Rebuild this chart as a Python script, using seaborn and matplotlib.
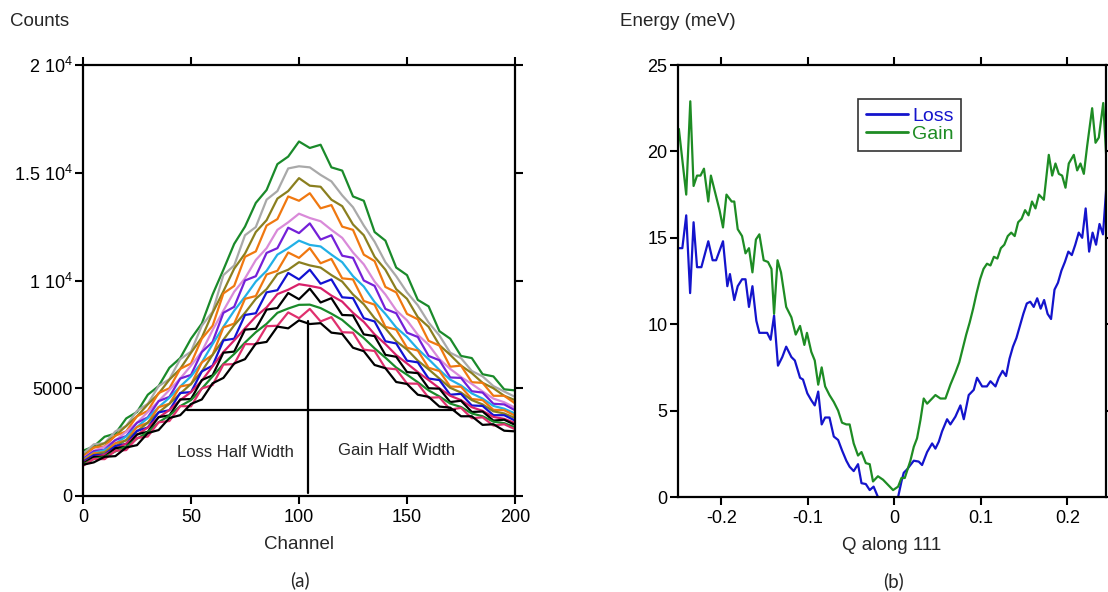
import numpy as np
import pandas as pd
import seaborn as sns
import matplotlib.pyplot as plt

# ---- panel (a): spectra, one value every 5 channels ----
channels = [0, 5, 10, 15, 20, 25, 30, 35, 40, 45, 50, 55, 60, 65, 70, 75, 80, 85, 90, 95,
            100, 105, 110, 115, 120, 125, 130, 135, 140, 145, 150, 155, 160, 165, 170, 175,
            180, 185, 190, 195, 200]

spec_green1 = [2100, 2300, 2750, 2900, 3600, 3900, 4700, 5100, 5950, 6400, 7300, 8000, 9350, 10500,
               11700, 12500, 13600, 14200, 15400, 15750, 16450, 16150, 16300, 15250, 15100, 13900,
               13700, 12250, 11850, 10600, 10250, 9100, 8800, 7650, 7300, 6500, 6400, 5650, 5550,
               4950, 4900]
spec_gray = [1950, 2400, 2450, 3000, 3250, 3950, 4280, 5100, 5420, 6350, 6700, 7900, 8550, 10250,
             10700, 12100, 12480, 13750, 14150, 15200, 15300, 15250, 14900, 14600, 13950, 13400,
             12550, 11800, 10850, 10200, 9450, 8850, 8050, 7450, 6650, 6400, 5800, 5550, 5100,
             4850, 4600]
spec_olive1 = [1850, 2250, 2450, 2800, 3250, 3700, 4250, 4750, 5400, 5900, 6650, 7350, 8500, 9500,
               10550, 11250, 12250, 12800, 13800, 14150, 14750, 14400, 14350, 13750, 13450, 12600,
               12100, 11100, 10500, 9600, 9150, 8300, 7850, 7000, 6550, 6050, 5700, 5250, 5000,
               4650, 4450]
spec_orange1 = [1800, 2250, 2300, 2800, 3000, 3700, 3950, 4780, 5000, 5900, 6150, 7300, 7900, 9400,
                9750, 11100, 11350, 12550, 12850, 13900, 13700, 14050, 13350, 13500, 12500, 12350,
                11200, 10900, 9700, 9450, 8450, 8200, 7200, 6980, 6000, 6050, 5280, 5250, 4650,
                4650, 4300]
spec_plum = [1750, 2100, 2280, 2580, 2980, 3400, 3900, 4400, 4920, 5450, 6050, 6700, 7700, 8600,
             9480, 10100, 10950, 11500, 12350, 12700, 13100, 12900, 12750, 12350, 11980, 11300,
             10750, 9950, 9350, 8620, 8150, 7480, 7020, 6350, 5900, 5520, 5200, 4850, 4520,
             4350, 4100]
spec_purple = [1720, 2080, 2150, 2600, 2780, 3400, 3650, 4400, 4600, 5450, 5620, 6680, 7150, 8500,
               8780, 10000, 10200, 11280, 11500, 12450, 12200, 12650, 11900, 12100, 11150, 11050,
               10000, 9750, 8680, 8480, 7580, 7380, 6500, 6300, 5500, 5480, 4860, 4800, 4280,
               4250, 3980]
spec_cyan = [1680, 2000, 2130, 2430, 2760, 3200, 3620, 4120, 4560, 5080, 5550, 6200, 7050, 7850,
             8600, 9250, 9950, 10450, 11200, 11500, 11850, 11650, 11580, 11200, 10850, 10200,
             9720, 9000, 8450, 7820, 7380, 6820, 6350, 5850, 5400, 5130, 4760, 4520, 4180,
             4050, 3830]
spec_orange2 = [1650, 1980, 2030, 2450, 2580, 3200, 3400, 4120, 4280, 5080, 5180, 6200, 6550, 7820,
                8000, 9150, 9280, 10280, 10450, 11300, 11050, 11500, 10800, 11000, 10100, 10050,
                9050, 8880, 7850, 7720, 6880, 6750, 5950, 5800, 5080, 5070, 4500, 4450, 4000,
                3980, 3730]
spec_olive2 = [1620, 1900, 2030, 2300, 2600, 3000, 3400, 3880, 4280, 4750, 5200, 5780, 6550, 7250,
               7920, 8500, 9150, 9600, 10300, 10500, 10850, 10700, 10600, 10250, 9950, 9350,
               8900, 8250, 7780, 7180, 6800, 6280, 5880, 5450, 5020, 4800, 4450, 4250, 3930,
               3830, 3620]
spec_blue = [1580, 1890, 1920, 2320, 2420, 3020, 3180, 3880, 3980, 4780, 4820, 5780, 6050, 7220,
             7300, 8400, 8480, 9450, 9550, 10350, 10050, 10500, 9850, 10050, 9220, 9180, 8250,
             8100, 7180, 7080, 6280, 6200, 5450, 5380, 4700, 4740, 4200, 4180, 3750, 3750, 3500]
spec_crimson1 = [1540, 1800, 1910, 2180, 2430, 2830, 3180, 3640, 3990, 4450, 4820, 5350, 6020, 6680,
                 7220, 7780, 8330, 8750, 9370, 9570, 9830, 9750, 9650, 9300, 9020, 8500, 8080,
                 7500, 7050, 6540, 6150, 5750, 5380, 5000, 4650, 4450, 4120, 3950, 3670, 3580, 3390]
spec_black1 = [1500, 1810, 1820, 2220, 2280, 2860, 2980, 3660, 3740, 4480, 4500, 5380, 5600, 6650,
               6700, 7720, 7760, 8650, 8720, 9420, 9130, 9620, 8980, 9180, 8400, 8380, 7500, 7420,
               6550, 6460, 5750, 5700, 5000, 4980, 4360, 4420, 3900, 3920, 3500, 3540, 3300]
spec_green2 = [1470, 1720, 1820, 2070, 2290, 2660, 2960, 3420, 3730, 4170, 4450, 4980, 5550, 6130,
               6590, 7120, 7600, 7990, 8500, 8700, 8870, 8880, 8720, 8460, 8170, 7740, 7330, 6850,
               6420, 5960, 5630, 5280, 4900, 4620, 4290, 4130, 3830, 3700, 3450, 3380, 3190]
spec_crimson2 = [1400, 1720, 1710, 2100, 2130, 2690, 2760, 3420, 3480, 4170, 4160, 4990, 5150, 6100,
                 6120, 7050, 7040, 7880, 7900, 8520, 8250, 8680, 8100, 8300, 7600, 7580, 6790,
                 6730, 5930, 5880, 5220, 5210, 4560, 4580, 4010, 4090, 3610, 3650, 3270, 3330, 3100]
spec_black2 = [1450, 1560, 1820, 1850, 2250, 2360, 2920, 3060, 3620, 3750, 4270, 4480, 5230, 5480,
               6150, 6350, 7070, 7150, 7860, 7780, 8150, 7980, 8020, 7580, 7520, 6880, 6720, 6080,
               5930, 5290, 5200, 4700, 4600, 4150, 4100, 3700, 3700, 3300, 3330, 3030, 3000]

spectra = [spec_green1, spec_gray, spec_olive1, spec_orange1, spec_plum, spec_purple, spec_cyan,
           spec_orange2, spec_olive2, spec_blue, spec_crimson1, spec_black1, spec_green2,
           spec_crimson2, spec_black2]
spec_colors = ['#1a8a2a', '#a9a9a9', '#8a7f1f', '#f07810', '#d98ad9', '#7420d8', '#22b0e6',
               '#f07810', '#8a7f1f', '#1212d2', '#d8206a', '#000000', '#1a8a2a', '#e0306e', '#000000']

# half-width construction lines
half_level = 4000
loss_edge, gain_edge = 48, 172
peak_channel, peak_bottom, peak_top = 104, 150, 8100

# ---- panel (b): dispersion ----
q_loss = [-0.249, -0.245, -0.2405, -0.236, -0.232, -0.228, -0.223, -0.215, -0.210, -0.206, -0.198,
          -0.193, -0.190, -0.185, -0.181, -0.176, -0.172, -0.168, -0.164, -0.1595, -0.156, -0.151,
          -0.147, -0.143, -0.139, -0.1345, -0.1295, -0.125, -0.119, -0.115, -0.109, -0.1056,
          -0.1006, -0.096, -0.092, -0.088, -0.084, -0.080, -0.075, -0.070, -0.065, -0.0605,
          -0.0555, -0.0517, -0.047, -0.042, -0.038, -0.033, -0.0285, -0.024, -0.019, -0.014,
          -0.010, -0.006, -0.002, 0.002, 0.0043, 0.0082, 0.0108, 0.0147, 0.0185, 0.0224, 0.0281,
          0.032, 0.0378, 0.0436, 0.0474, 0.0513, 0.0551, 0.0609, 0.0647, 0.0705, 0.0763, 0.0802,
          0.0859, 0.0917, 0.0955, 0.1014, 0.1069, 0.111, 0.1168, 0.1206, 0.125, 0.129, 0.133,
          0.137, 0.141, 0.145, 0.149, 0.153, 0.157, 0.161, 0.165, 0.169, 0.173, 0.177, 0.181,
          0.185, 0.189, 0.193, 0.197, 0.201, 0.205, 0.209, 0.213, 0.217, 0.221, 0.225, 0.229,
          0.233, 0.237, 0.241, 0.245]
e_loss = [14.4, 14.4, 16.3, 11.8, 15.9, 13.3, 13.3, 14.8, 13.7, 13.7, 14.8, 12.2, 12.9, 11.4, 12.2,
          12.6, 12.6, 11.0, 12.2, 10.2, 9.5, 9.5, 9.5, 9.1, 10.5, 7.6, 8.1, 8.7, 8.1, 7.9, 6.9, 6.8,
          6.0, 5.6, 5.3, 6.1, 4.2, 4.6, 4.6, 3.5, 3.3, 2.7, 2.1, 1.75, 1.5, 1.9, 0.8, 0.75, 0.4,
          0.6, 0.0, -0.6, -0.9, -0.7, -0.4, -0.2, 0.0, 0.9, 1.4, 1.6, 1.85, 2.1, 2.05, 1.85, 2.6,
          3.1, 2.8, 3.2, 3.8, 4.5, 4.2, 4.65, 5.3, 4.5, 5.9, 6.2, 6.9, 6.4, 6.4, 6.7, 6.4, 6.9,
          7.3, 7.0, 8.0, 8.7, 9.2, 9.9, 10.6, 11.2, 11.3, 11.0, 11.5, 10.9, 11.4, 10.6, 10.3,
          12.0, 12.4, 13.1, 13.6, 14.2, 14.0, 14.6, 15.3, 15.0, 16.7, 14.2, 15.3, 14.6, 15.8,
          15.2, 18.0]

q_gain = [-0.249, -0.2405, -0.2358, -0.232, -0.228, -0.224, -0.220, -0.215, -0.212, -0.207, -0.202,
          -0.198, -0.194, -0.188, -0.185, -0.181, -0.176, -0.172, -0.168, -0.164, -0.160, -0.156,
          -0.151, -0.146, -0.142, -0.139, -0.135, -0.131, -0.125, -0.119, -0.114, -0.109, -0.104,
          -0.101, -0.096, -0.092, -0.088, -0.084, -0.080, -0.075, -0.070, -0.065, -0.0605,
          -0.0555, -0.0517, -0.047, -0.042, -0.038, -0.033, -0.0285, -0.0247, -0.019, -0.0131,
          -0.0073, -0.0015, 0.0043, 0.0082, 0.012, 0.0185, 0.0224, 0.0262, 0.0301, 0.0339,
          0.0378, 0.0436, 0.0474, 0.0532, 0.059, 0.0647, 0.0705, 0.075, 0.079, 0.083, 0.087,
          0.091, 0.095, 0.099, 0.103, 0.107, 0.111, 0.115, 0.119, 0.123, 0.127, 0.131, 0.135,
          0.139, 0.143, 0.147, 0.151, 0.155, 0.159, 0.163, 0.167, 0.1727, 0.1784, 0.1823,
          0.1861, 0.190, 0.1938, 0.1977, 0.2015, 0.2073, 0.2112, 0.215, 0.2189, 0.2227, 0.2285,
          0.2324, 0.2362, 0.2413, 0.245]
e_gain = [21.3, 17.5, 22.9, 18.0, 18.6, 18.6, 19.0, 17.1, 18.6, 17.6, 16.6, 15.6, 17.5, 17.1, 17.1,
          15.5, 15.1, 14.1, 14.4, 13.0, 14.9, 15.2, 13.7, 13.6, 13.2, 10.6, 13.7, 13.0, 11.0, 10.4,
          9.4, 9.9, 8.8, 9.5, 8.4, 7.9, 6.5, 7.5, 6.4, 5.9, 5.5, 5.0, 4.3, 4.2, 4.2, 3.1, 2.4, 2.6,
          1.96, 1.9, 0.9, 1.2, 1.0, 0.7, 0.4, 0.6, 1.1, 1.1, 2.1, 2.9, 3.4, 4.45, 5.7, 5.4, 5.7,
          5.9, 5.7, 5.7, 6.5, 7.2, 7.8, 8.6, 9.4, 10.1, 10.9, 11.8, 12.6, 13.2, 13.5, 13.4, 13.9,
          13.8, 14.4, 14.6, 15.1, 15.3, 15.1, 15.9, 16.1, 16.6, 16.3, 17.1, 16.7, 17.5, 17.2,
          19.8, 18.6, 19.3, 18.7, 18.6, 17.9, 19.3, 19.8, 18.9, 19.3, 18.7, 20.3, 22.5, 20.5,
          20.8, 22.8, 19.5]

loss_color = '#1414cc'
gain_color = '#1e8c24'

sns.set_theme(style='ticks')
plt.rcParams['font.family'] = ['Liberation Sans', 'DejaVu Sans']
plt.rcParams['mathtext.default'] = 'regular'
plt.rcParams['axes.unicode_minus'] = False

fig = plt.figure(figsize=(11.08, 5.92), dpi=100)
ax1 = fig.add_axes([83 / 1108, 1 - 496 / 592, 432 / 1108, 431 / 592])
ax2 = fig.add_axes([678 / 1108, 1 - 497 / 592, 428 / 1108, 432 / 592])

df_spec = pd.DataFrame({
    'channel': channels * len(spectra),
    'counts': sum(spectra, []),
    'curve': np.repeat(np.arange(len(spectra)), len(channels)),
})
sns.lineplot(data=df_spec, x='channel', y='counts', hue='curve', palette=spec_colors,
             estimator=None, sort=False, legend=False, lw=1.6, ax=ax1)
ax1.plot([loss_edge, gain_edge], [half_level, half_level], color='black', lw=1.6)
ax1.plot([peak_channel, peak_channel], [peak_bottom, peak_top], color='black', lw=1.6)
ax1.text(70.8, 2000, 'Loss Half Width', fontsize=12, ha='center', va='center')
ax1.text(145, 2100, 'Gain Half Width', fontsize=12, ha='center', va='center')

ax1.set_xlim(0, 200)
ax1.set_ylim(0, 20000)
ax1.set_xticks([0, 50, 100, 150, 200])
ax1.set_yticks([0, 5000, 10000, 15000, 20000])
ax1.set_yticklabels(['0', '5000', '1 10$^4$', '1.5 10$^4$', '2 10$^4$'])
ax1.set_xlabel('Channel', fontsize=13.5, labelpad=7)
ax1.set_ylabel('')

df_disp = pd.concat([
    pd.DataFrame({'q': q_loss, 'e': e_loss, 'kind': 'Loss'}),
    pd.DataFrame({'q': q_gain, 'e': e_gain, 'kind': 'Gain'}),
])
sns.lineplot(data=df_disp, x='q', y='e', hue='kind', palette=[loss_color, gain_color],
             estimator=None, sort=False, lw=1.6, ax=ax2)
ax2.set_xlim(-0.25, 0.2445)
ax2.set_ylim(0, 25)
ax2.set_xticks([-0.2, -0.1, 0, 0.1, 0.2])
ax2.set_xticklabels(['-0.2', '-0.1', '0', '0.1', '0.2'])
ax2.set_yticks([0, 5, 10, 15, 20, 25])
ax2.set_xlabel('Q along 111', fontsize=13.5, labelpad=7)
ax2.set_ylabel('')
leg = ax2.legend(loc='upper left', bbox_to_anchor=(0.42, 0.921), borderaxespad=0,
                 fontsize=14, labelcolor='linecolor', frameon=True, fancybox=False,
                 edgecolor='#333333', framealpha=1, handlelength=2.2, handletextpad=0.2,
                 labelspacing=0.05, borderpad=0.4)
leg.get_frame().set_linewidth(1.2)
for line in leg.get_lines():
    line.set_linewidth(2.0)

for ax in (ax1, ax2):
    for side in ax.spines:
        ax.spines[side].set_visible(True)
        ax.spines[side].set_linewidth(1.6)
        ax.spines[side].set_color('black')
    ax.tick_params(direction='out', length=5.5, width=1.5, labelsize=13, colors='black',
                   top=True, right=True, labeltop=False, labelright=False, pad=2)
    ax.tick_params(axis='x', pad=4)
    ax.set_facecolor('white')

fig.text(10 / 1108, 1 - 22 / 592, 'Counts', fontsize=13.5, ha='left', va='center')
fig.text(620 / 1108, 1 - 22 / 592, 'Energy (meV)', fontsize=13.5, ha='left', va='center')
fig.text(300 / 1108, 1 - 580 / 592, '(a)', fontsize=13.5, ha='center', va='center', family='Lato')
fig.text(894 / 1108, 1 - 581 / 592, '(b)', fontsize=13.5, ha='center', va='center', family='Lato')

fig.savefig('out.png', dpi=100, facecolor='white')
